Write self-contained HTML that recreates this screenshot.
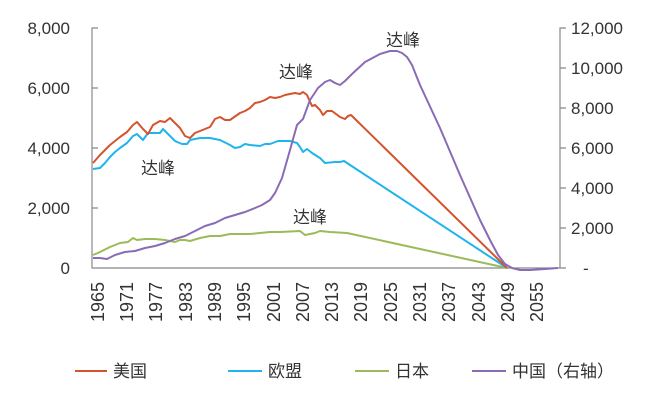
<!DOCTYPE html><html><head><meta charset="utf-8"><style>body{margin:0;background:#fff}svg{display:block}text{font-family:"Liberation Sans","Noto Sans CJK SC",sans-serif;fill:#333}</style></head><body>
<svg width="661" height="404" viewBox="0 0 661 404">
<g stroke="#888" stroke-width="1.2" fill="none">
<path d="M98,28H92V268H560V28H566"/>
<path d="M92,88h6M92,148h6M92,208h6M560,68h6M560,108h6M560,148h6M560,188h6M560,228h6M560,268h6"/>
</g>
<g font-size="17" text-anchor="end">
<text x="70" y="34">8,000</text><text x="70" y="94">6,000</text><text x="70" y="154">4,000</text><text x="70" y="214">2,000</text><text x="70" y="274">0</text>
</g>
<g font-size="17" text-anchor="start">
<text x="571" y="34">12,000</text><text x="571" y="74">10,000</text><text x="571" y="114">8,000</text><text x="571" y="154">6,000</text><text x="571" y="194">4,000</text><text x="571" y="234">2,000</text><text x="583" y="274">-</text>
</g>
<g font-size="18" text-anchor="end">
<text transform="translate(104,282) rotate(-90)">1965</text>
<text transform="translate(133,282) rotate(-90)">1971</text>
<text transform="translate(162,282) rotate(-90)">1977</text>
<text transform="translate(192,282) rotate(-90)">1983</text>
<text transform="translate(221,282) rotate(-90)">1989</text>
<text transform="translate(250,282) rotate(-90)">1995</text>
<text transform="translate(280,282) rotate(-90)">2001</text>
<text transform="translate(309,282) rotate(-90)">2007</text>
<text transform="translate(338,282) rotate(-90)">2013</text>
<text transform="translate(367,282) rotate(-90)">2019</text>
<text transform="translate(397,282) rotate(-90)">2025</text>
<text transform="translate(426,282) rotate(-90)">2031</text>
<text transform="translate(455,282) rotate(-90)">2037</text>
<text transform="translate(485,282) rotate(-90)">2043</text>
<text transform="translate(514,282) rotate(-90)">2049</text>
<text transform="translate(543,282) rotate(-90)">2055</text>
</g>
<g fill="none" stroke-width="2" stroke-linejoin="round">
<polyline stroke="#9bbb59" points="93,255 100,252 110,247 120,243 128,242 133,238 137,240 145,239 155,239 165,240 175,242 180,240 185,240 190,241 200,238 210,236 220,236 230,234 240,234 250,234 260,233 270,232 280,232 300,231 305,235 310,234 315,233 320,231 330,232 347,233 507,268"/>
<polyline stroke="#1fb4ec" points="93,169 100,168 105,163 110,157 115,152 120,148 127,143 133,136 137,134 143,140 148,133 155,133 160,133 163,129 168,134 175,141 182,144 187,144 190,140 200,138 210,138 220,140 230,145 235,148 240,147 245,144 250,145 260,146 265,144 270,144 278,141 290,141 297,143 300,147 303,152 307,149 312,153 320,158 325,163 335,162 340,162 344,161 347,163 507,268"/>
<polyline stroke="#d4542e" points="93,163 100,155 110,145 120,137 127,132 133,125 137,122 143,129 148,134 153,125 160,121 165,122 170,118 175,123 180,128 185,136 190,138 195,133 205,129 210,127 215,119 220,117 225,120 230,120 240,113 245,111 250,108 255,103 260,102 265,100 270,97 275,98 280,97 285,95 290,94 295,93 300,94 303,92 307,95 312,106 315,105 320,110 323,115 327,111 332,111 340,117 345,119 348,116 351,115 507,268"/>
<polyline stroke="#8a6bb5" points="93,258 100,258 107,259 115,255 125,252 135,251 145,248 155,246 165,243 175,239 185,236 193,232 205,226 215,223 225,218 235,215 245,212 255,208 262,205 270,200 275,193 282,178 290,150 297,125 303,119 310,100 318,88 325,82 330,80 335,83 340,85 345,81 352,74 365,62 380,54 390,51 397,51 402,53 407,57 412,65 420,85 440,128 460,175 480,220 490,240 498,255 505,264 512,268 520,270 530,270 545,269 558,268"/>
</g>
<g font-size="17" text-anchor="middle">
<text x="296" y="78">达峰</text><text x="158" y="174">达峰</text><text x="310" y="223">达峰</text><text x="403" y="46">达峰</text>
</g>
<g stroke-width="2"><path d="M75,371H107" stroke="#d4542e"/><path d="M228,371H262" stroke="#1fb4ec"/><path d="M355,371H389" stroke="#9bbb59"/><path d="M472,371H506" stroke="#8a6bb5"/></g>
<g font-size="17"><text x="113" y="377">美国</text><text x="268" y="377">欧盟</text><text x="395" y="377">日本</text><text x="512" y="377">中国（右轴）</text></g>
</svg></body></html>
